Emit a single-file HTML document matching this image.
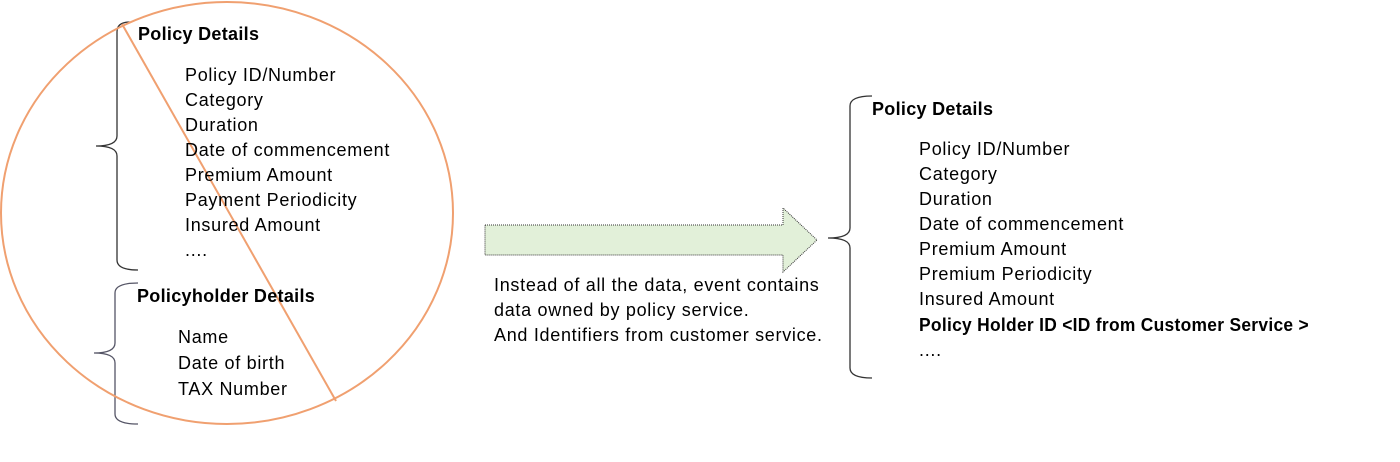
<!DOCTYPE html>
<html><head><style>
body{margin:0;background:#fff;}
svg text{font-family:"Liberation Sans",sans-serif;font-size:18px;letter-spacing:0.7px;fill:#000;}
.b{font-weight:bold;letter-spacing:0.3px;}
</style></head><body>
<svg width="1400" height="457" xmlns="http://www.w3.org/2000/svg">
<g fill="none" stroke="#333" stroke-width="1.3">
<path d="M130,22 Q117,22 117,32 L117,136 Q117,146 96,146 Q117,146 117,156 L117,260 Q117,270 138,270"/>
<path d="M138,283 Q115,283 115,293 L115,343 Q115,353 94,353 Q115,353 115,363 L115,414 Q115,424 138,424" stroke="#556"/>
<path d="M872,96 Q850,96 850,106 L850,228 Q850,238 828,238 Q850,238 850,248 L850,368 Q850,378 872,378"/>
</g>
<ellipse cx="227" cy="213" rx="226" ry="211" fill="none" stroke="#f0a070" stroke-width="2"/>
<line x1="122" y1="24" x2="336" y2="401" stroke="#f0a070" stroke-width="2"/>
<polygon points="485,225 783,225 783,208 817,240 783,272 783,255 485,255" fill="#e2f0d9" stroke="#333" stroke-width="1" stroke-dasharray="1,1"/>
<text x="138" y="40" class="b">Policy Details</text>
<text x="185" y="81">Policy ID/Number</text>
<text x="185" y="106">Category</text>
<text x="185" y="131">Duration</text>
<text x="185" y="156">Date of commencement</text>
<text x="185" y="181">Premium Amount</text>
<text x="185" y="206">Payment Periodicity</text>
<text x="185" y="231">Insured Amount</text>
<text x="185" y="256">....</text>
<text x="137" y="302" class="b">Policyholder  Details</text>
<text x="178" y="343">Name</text>
<text x="178" y="369">Date of birth</text>
<text x="178" y="395">TAX Number</text>
<text x="494" y="291">Instead of all the data, event contains</text>
<text x="494" y="316">data owned by policy service.</text>
<text x="494" y="341">And Identifiers from customer service.</text>
<text x="872" y="115" class="b">Policy Details</text>
<text x="919" y="155">Policy ID/Number</text>
<text x="919" y="180">Category</text>
<text x="919" y="205">Duration</text>
<text x="919" y="230">Date of commencement</text>
<text x="919" y="255">Premium Amount</text>
<text x="919" y="280">Premium  Periodicity</text>
<text x="919" y="305">Insured Amount</text>
<text x="919" y="331" class="b" textLength="390" lengthAdjust="spacingAndGlyphs">Policy Holder ID &lt;ID from Customer Service &gt;</text>
<text x="919" y="356">....</text>
</svg>
</body></html>
